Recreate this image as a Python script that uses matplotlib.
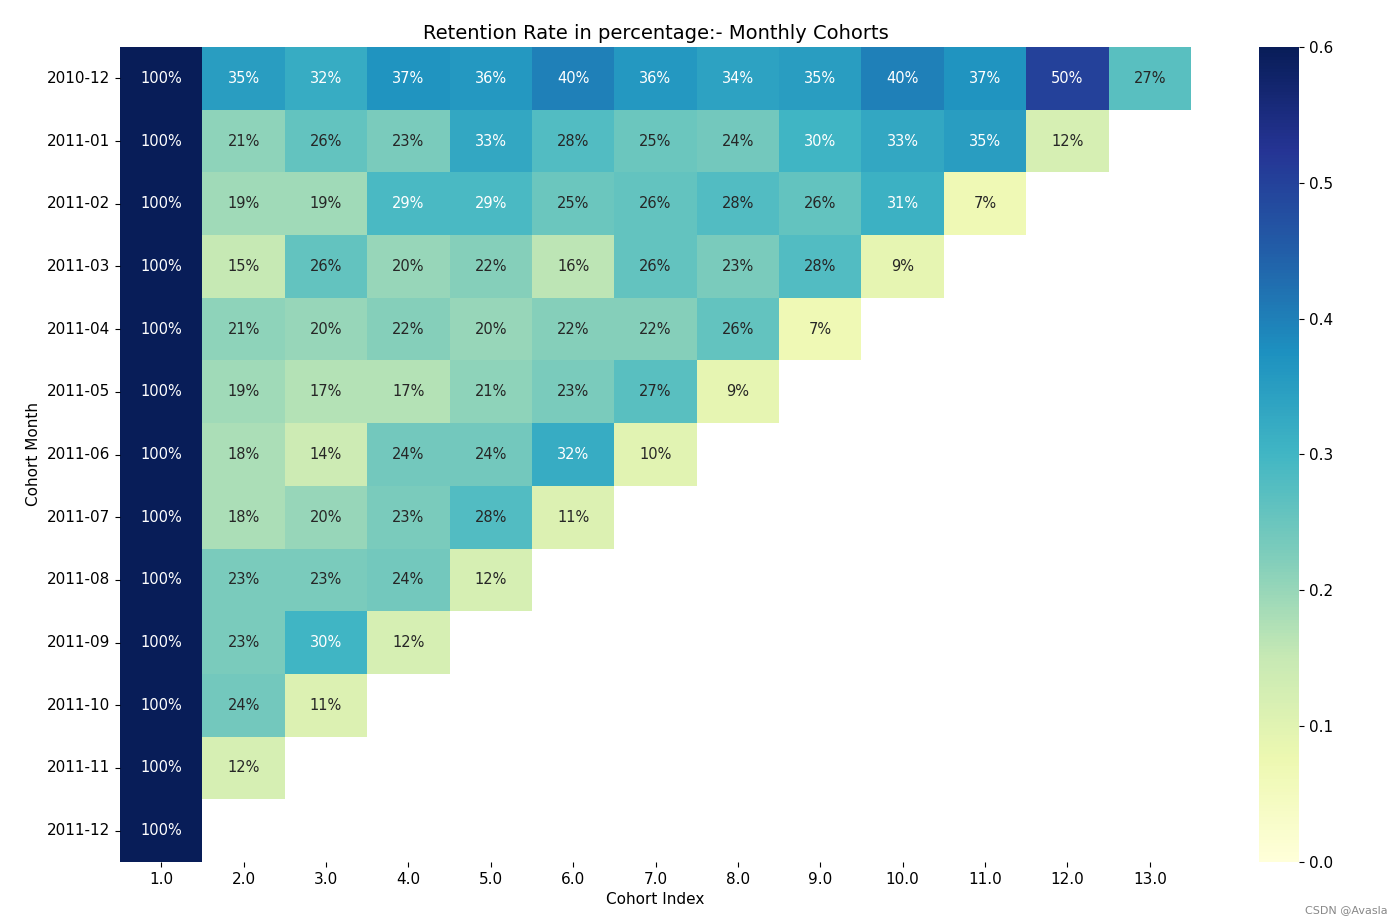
import numpy as np
import pandas as pd
import matplotlib
matplotlib.use("Agg")
import matplotlib.pyplot as plt
import seaborn as sns

cohort_months = ["2010-12", "2011-01", "2011-02", "2011-03", "2011-04", "2011-05",
                 "2011-06", "2011-07", "2011-08", "2011-09", "2011-10", "2011-11", "2011-12"]
cohort_index = [1.0, 2.0, 3.0, 4.0, 5.0, 6.0, 7.0, 8.0, 9.0, 10.0, 11.0, 12.0, 13.0]

r_2010_12 = [100, 35, 32, 37, 36, 40, 36, 34, 35, 40, 37, 50, 27]
r_2011_01 = [100, 21, 26, 23, 33, 28, 25, 24, 30, 33, 35, 12]
r_2011_02 = [100, 19, 19, 29, 29, 25, 26, 28, 26, 31, 7]
r_2011_03 = [100, 15, 26, 20, 22, 16, 26, 23, 28, 9]
r_2011_04 = [100, 21, 20, 22, 20, 22, 22, 26, 7]
r_2011_05 = [100, 19, 17, 17, 21, 23, 27, 9]
r_2011_06 = [100, 18, 14, 24, 24, 32, 10]
r_2011_07 = [100, 18, 20, 23, 28, 11]
r_2011_08 = [100, 23, 23, 24, 12]
r_2011_09 = [100, 23, 30, 12]
r_2011_10 = [100, 24, 11]
r_2011_11 = [100, 12]
r_2011_12 = [100]

rows = [r_2010_12, r_2011_01, r_2011_02, r_2011_03, r_2011_04, r_2011_05, r_2011_06,
        r_2011_07, r_2011_08, r_2011_09, r_2011_10, r_2011_11, r_2011_12]

mat = np.full((len(cohort_months), len(cohort_index)), np.nan)
for i, r in enumerate(rows):
    mat[i, :len(r)] = np.array(r) / 100.0
df = pd.DataFrame(mat, index=cohort_months, columns=cohort_index)

plt.rcParams['font.family'] = ['DejaVu Sans']
fig = plt.figure(figsize=(13.95, 9.24), dpi=100)
ax = fig.add_axes([120/1395, 1-862/924, (1191-120)/1395, (862-47)/924])
cax = fig.add_axes([1259/1395, 1-862/924, 40/1395, (862-47)/924])

sns.heatmap(df, annot=True, fmt='.0%', cmap='YlGnBu', vmin=0.0, vmax=0.6,
            ax=ax, cbar_ax=cax, annot_kws={'fontsize': 10.5})
ax.set_title('Retention Rate in percentage:- Monthly Cohorts', fontsize=14)
ax.set_xlabel('Cohort Index', fontsize=11)
ax.set_ylabel('Cohort Month', fontsize=11)
ax.tick_params(axis='both', labelsize=11)
ax.set_yticklabels(cohort_months, rotation=0)
ax.set_xticklabels([f"{v:.1f}" for v in cohort_index], rotation=0)
cax.tick_params(labelsize=11)
for s in cax.spines.values():
    s.set_visible(False)

fig.text(0.995, 0.01, 'CSDN @Avasla', ha='right', va='bottom', fontsize=8, color='#888888')

fig.savefig('out.png', dpi=100)
